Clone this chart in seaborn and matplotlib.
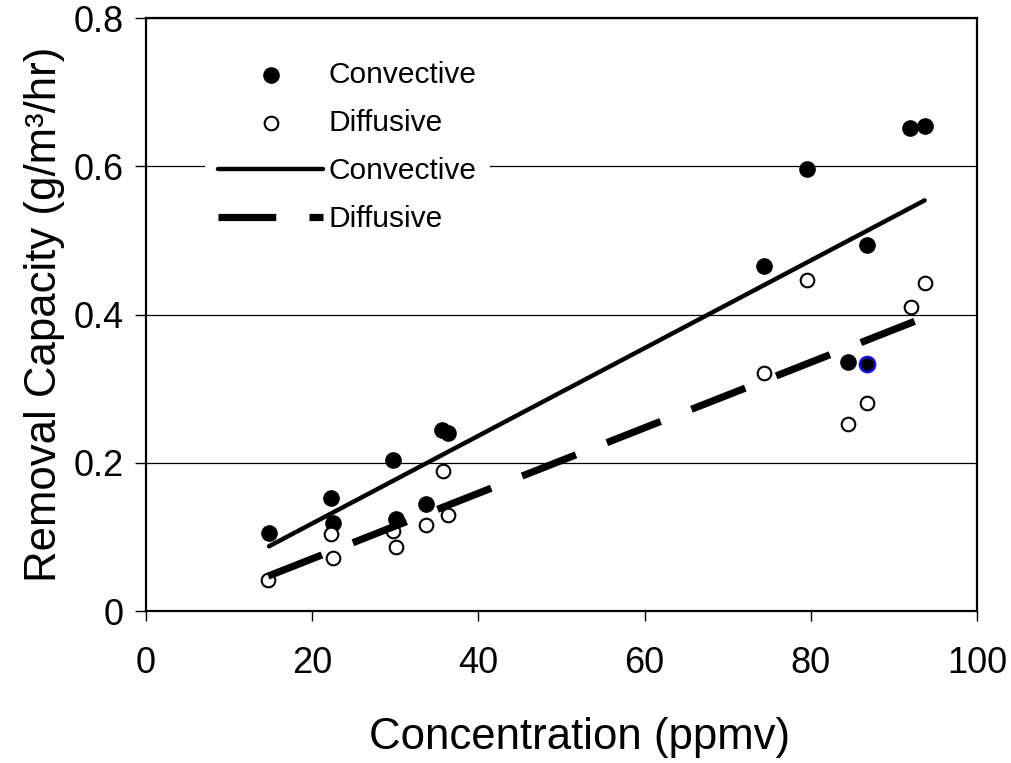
import numpy as np
import pandas as pd
import matplotlib
matplotlib.use("Agg")
import matplotlib.pyplot as plt
import seaborn as sns

# data
conv_x = [14.8, 22.2, 22.5, 29.7, 30.1, 33.7, 35.6, 36.4, 74.4, 79.6, 84.5, 86.8, 86.8, 91.9, 93.7]
conv_y = [0.105, 0.152, 0.119, 0.204, 0.124, 0.145, 0.244, 0.240, 0.465, 0.596, 0.336, 0.494, 0.333, 0.652, 0.654]
diff_x = [14.7, 22.2, 22.5, 29.7, 30.1, 33.7, 35.7, 36.3, 74.4, 79.6, 84.5, 86.8, 92.0, 93.7]
diff_y = [0.042, 0.104, 0.072, 0.108, 0.087, 0.116, 0.189, 0.130, 0.321, 0.446, 0.252, 0.281, 0.410, 0.443]
highlight = 12  # convective point drawn with a blue outline

x_ticks = [0, 20, 40, 60, 80, 100]
y_ticks = [0, 0.2, 0.4, 0.6, 0.8]
y_tick_labels = ["0", "0.2", "0.4", "0.6", "0.8"]

sns.set_style("white")
plt.rcParams['font.family'] = ['Liberation Sans', 'DejaVu Sans']
plt.rcParams['text.color'] = 'black'
plt.rcParams['axes.labelcolor'] = 'black'
plt.rcParams['xtick.color'] = 'black'
plt.rcParams['ytick.color'] = 'black'

conv = pd.DataFrame({'x': conv_x, 'y': conv_y})
diff = pd.DataFrame({'x': diff_x, 'y': diff_y})

# linear fits
def fit_line(df):
    m, b = np.polyfit(df['x'], df['y'], 1)
    xs = np.array([df['x'].min(), df['x'].max()])
    return pd.DataFrame({'x': xs, 'y': m * xs + b})

conv_fit = fit_line(conv)
diff_fit = fit_line(diff)

fig = plt.figure(figsize=(10.12, 7.63), dpi=100)
ax = fig.add_axes([0.1443, 0.1992, 0.8211, 0.7772])

sns.scatterplot(data=conv.drop(index=highlight), x='x', y='y', ax=ax, color='black',
                s=144, linewidth=0, marker='o', label='Convective', zorder=3)
sns.scatterplot(data=diff, x='x', y='y', ax=ax, facecolor='white', edgecolor='black',
                s=96, linewidth=1.5, marker='o', label='Diffusive', zorder=3)
sns.scatterplot(data=conv.loc[[highlight]], x='x', y='y', ax=ax, facecolor='black',
                edgecolor='#1010e0', s=120, linewidth=1.8, marker='o', zorder=3)

sns.lineplot(data=conv_fit, x='x', y='y', ax=ax, color='black', lw=3.2,
             solid_capstyle='round', label='Convective', zorder=4)
sns.lineplot(data=diff_fit, x='x', y='y', ax=ax, color='black', lw=5.2,
             dashes=False, label='Diffusive', zorder=4)
ax.lines[-1].set_dashes((8.0, 4.6))

ax.set_xlim(0, 100)
ax.set_ylim(0, 0.8)
ax.set_xticks(x_ticks)
ax.set_yticks(y_ticks)
ax.set_yticklabels(y_tick_labels)
ax.yaxis.grid(True, color='black', lw=0.9)
ax.xaxis.grid(False)

for sp in ax.spines.values():
    sp.set_color('black')
    sp.set_linewidth(1.6)

ax.tick_params(axis='x', direction='out', length=7, width=1, pad=18, labelsize=26, bottom=True)
ax.tick_params(axis='y', direction='out', length=8, width=1, pad=8, labelsize=26, left=True)

ax.set_xlabel('Concentration (ppmv)', fontsize=31.5)
ax.xaxis.set_label_coords(0.522, -0.178)
ax.set_ylabel('Removal Capacity (g/m³/hr)', fontsize=31.5, labelpad=6)

leg = ax.legend(loc='upper left', bbox_to_anchor=(0.071, 0.951), borderaxespad=0,
                fontsize=21.5, handlelength=3.5, handletextpad=0.2, labelspacing=0.68,
                borderpad=0.45, frameon=True, fancybox=False)
leg.get_frame().set_facecolor('white')
leg.get_frame().set_edgecolor('none')
leg.get_frame().set_alpha(1)

fig.savefig('out.png', dpi=100)
